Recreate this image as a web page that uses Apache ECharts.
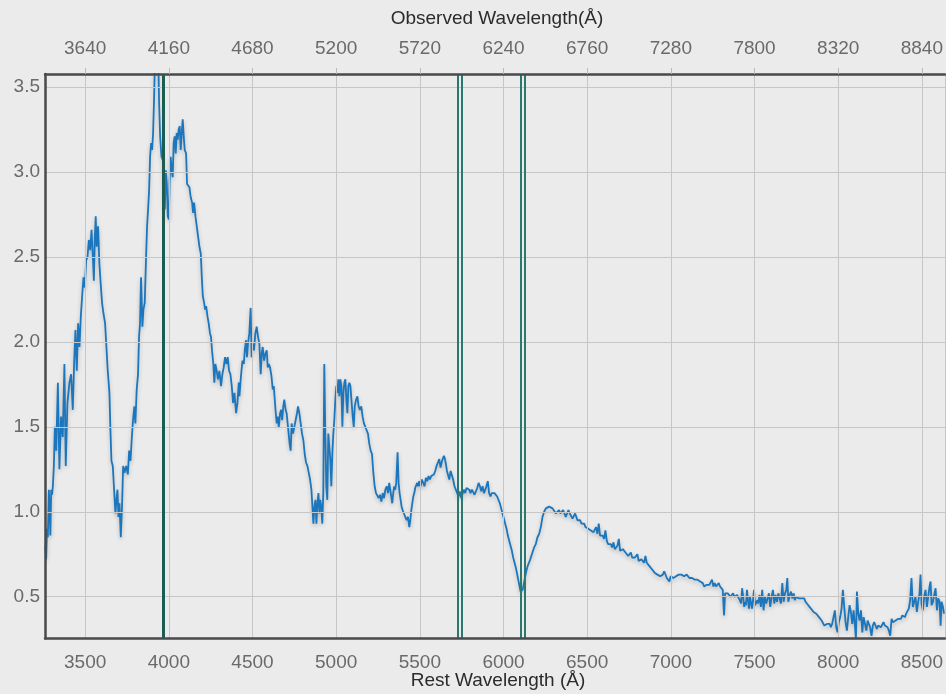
<!DOCTYPE html>
<html>
<head>
<meta charset="utf-8">
<script src="https://cdn.jsdelivr.net/npm/echarts@6/dist/echarts.min.js"></script>
<style>
  html, body { margin: 0; padding: 0; background: #ebebeb; }
  #chart { width: 946px; height: 694px; }
</style>
</head>
<body>
<div id="chart"></div>
<script>
// Redshift used to convert rest-frame wavelengths to the observed frame
const redshift = 0.04;

// Rest-frame wavelength (Å)
const restWave = [
  3262,3267,3272,3277,3283,3288,3292,3297,3302,3307,3313,3319,3327,3337,3346,3356,3366,3376,3384,3394,
  3406,3416,3426,3434,3442,3450,3458,3466,3474,3482,3490,3498,3506,3514,3522,3530,3538,3546,3552,3558,
  3563,3569,3577,3585,3593,3601,3609,3619,3627,3635,3645,3651,3657,3665,3673,3681,3687,3693,3699,3705,
  3713,3721,3727,3735,3745,3755,3763,3771,3779,3786,3794,3800,3808,3816,3822,3828,3834,3842,3848,3856,
  3864,3870,3876,3882,3888,3894,3900,3906,3912,3916,3920,3926,3932,3938,3942,3948,3956,3964,3970,3976,3982,
  3988,3994,4000,4005,4011,4017,4023,4029,4035,4041,4047,4053,4059,4065,4071,4077,4083,4089,4095,4103,
  4109,4117,4123,4131,4139,4145,4151,4159,4167,4175,4183,4191,4197,4203,4211,4217,4223,4231,4238,4246,
  4252,4258,4266,4272,4278,4286,4294,4302,4312,4320,4328,4336,4344,4352,4360,4368,4376,4384,4392,4402,
  4410,4418,
  4422,4428,4434,4440,4448,4454,4461,4467,4473,4481,4489,4495,4501,4509,4517,4525,4533,4541,4549,4555,
  4561,4569,4577,4585,4591,4597,4605,4613,4621,4627,4633,4639,4645,4651,4657,4665,4671,4677,4684,4690,
  4698,4704,4710,4716,4722,4728,4734,4742,4750,4758,4766,4772,4780,4788,4796,4804,4812,4820,4828,4836,
  4844,4852,4858,4864,4870,4876,4882,4888,4894,4900,4905,4911,4917,4923,4929,4935,4941,4947,4953,4959,
  4965,4971,4977,4983,4989,4995,5001,5007,5013,5019,5025,5031,5037,5043,5049,5055,5061,5067,5073,5079,
  5085,5091,5099,5105,5111,5119,5127,5134,5142,5150,5158,5166,5174,5182,5190,5198,5206,5214,5222,5230,
  5238,5246,5254,5262,5270,5278,5286,5294,5302,5310,
  5317,5323,5329,5335,5341,5347,5353,5359,5367,5373,5379,5385,5391,5397,5405,5413,5421,5429,5437,5443,
  5449,5455,5461,5467,5472,5478,5484,5490,5496,5504,5512,5520,5528,5536,5544,5552,5560,5568,5576,5584,
  5592,5600,5608,5616,5624,5630,5636,5644,5650,5656,5662,5668,5676,5684,5691,5699,5707,5715,5723,5731,
  5739,5747,5755,5763,5771,5779,5787,5795,5803,5811,5819,5827,5835,5843,5851,5859,5867,5875,5883,5891,
  5898,5906,5914,5922,5930,5938,5946,5954,5962,5970,5978,5986,5994,6002,6010,6018,6026,6034,6042,6050,
  6058,6066,
  6074,6082,6090,6096,6102,6108,6114,6120,6128,6136,6144,6152,6160,
  6173,6183,6193,6203,6213,6223,6233,6243,6253,6263,6273,6283,6293,6303,6313,6323,
  6332,6340,6348,6356,6364,6372,6380,6388,6396,6404,6412,6420,6428,6434,6442,6450,6458,6466,6474,6482,
  6490,6498,6506,6514,6522,6530,6538,6546,6553,6561,6569,6577,6585,6593,6601,6609,6617,6625,6633,6641,
  6649,6657,6665,6673,6681,6689,6697,6705,6713,6721,6729,6737,6745,6753,6761,6769,6776,6784,6792,6800,
  6808,6816,6824,6832,6840,6848,6856,6864,6872,6880,6888,6896,6904,6912,6920,6928,6936,6944,6952,6960,
  6968,6976,6984,6991,6999,7007,7015,7023,7031,7039,7047,7055,7063,7071,7079,7087,7095,7103,7111,7119,
  7127,7135,7143,7151,7159,7167,7175,7183,7191,7199,7207,7214,7222,7230,7238,7246,7254,7262,7270,7278,
  7286,7294,7302,7310,7318,7324,7332,7340,7348,7356,7364,7372,7380,7388,7396,7404,7412,7420,7426,7432,
  7438,7443,7449,7455,7461,7467,7473,7479,7485,7491,7497,7503,7509,7517,
  7522,7530,7538,7546,7554,7562,7570,7578,7586,7594,7602,7610,7618,7626,7634,7642,7650,7658,7666,7674,
  7682,7690,7696,7702,7710,7718,7726,7734,7741,7749,7757,7765,7773,7781,7789,7797,7805,7813,7821,7829,
  7837,7845,7853,7861,7869,7877,7885,7893,7901,7909,7917,7925,7933,7941,7949,7956,7964,7972,7980,7988,
  7996,8004,8012,8020,8028,8036,8044,8052,8060,8068,8076,8084,8092,8100,8106,8112,8120,8128,8136,8144,
  8152,8160,8168,8176,8183,8191,8199,8207,8215,8223,8231,8239,8247,8255,8263,8271,8279,8287,8295,8303,
  8311,8319,8327,8335,8343,8351,8359,8367,8375,8383,8391,8399,8406,8414,8422,8430,8438,8446,8454,8462,
  8470,8478,8486,8492,8498,8506,8514,8522,8530,8538,8546,8552,8558,8566,8574,8582,8590,8598,8606,8612,
  8618,8626,8632
];

// Normalised flux at each wavelength
const flux = [
  0.80,0.72,0.90,0.85,1.13,1.00,0.86,1.13,1.10,1.15,1.27,1.50,1.36,1.76,1.25,1.56,1.44,1.87,1.27,1.64,
  1.76,1.81,1.60,1.87,2.07,1.83,2.11,1.97,2.15,2.27,2.38,2.32,2.48,2.50,2.60,2.54,2.66,2.50,2.36,2.62,
  2.74,2.56,2.68,2.46,2.34,2.23,2.17,2.11,1.97,1.83,1.70,1.48,1.30,1.27,1.13,0.99,1.07,1.13,0.97,1.05,
  0.85,1.05,1.27,1.23,1.27,1.22,1.36,1.30,1.44,1.54,1.62,1.52,1.72,1.81,2.03,2.11,2.38,2.09,2.19,2.23,
  2.50,2.68,2.78,2.89,3.09,3.17,3.13,3.23,3.44,3.62,3.70,3.60,3.70,3.62,3.40,3.21,3.09,3.07,2.95,2.78,3.01,
  2.93,2.74,2.72,2.95,3.09,3.01,2.97,3.17,3.21,3.11,3.23,3.19,3.25,3.27,3.13,3.23,3.31,3.21,3.13,3.11,
  2.93,2.93,2.91,2.85,2.82,2.76,2.82,2.74,2.68,2.62,2.56,2.52,2.38,2.27,2.23,2.19,2.21,2.15,2.11,2.05,
  2.03,1.95,1.87,1.76,1.87,1.83,1.78,1.83,1.74,1.81,1.85,1.91,1.87,1.91,1.83,1.81,1.74,1.64,1.70,1.58,
  1.64,1.76,
  1.68,1.76,1.83,1.89,1.87,1.95,2.01,1.91,1.99,2.05,2.20,1.91,1.99,1.95,2.05,2.09,2.03,1.99,1.81,1.93,
  1.97,1.89,1.93,1.95,1.85,1.87,1.85,1.80,1.72,1.74,1.66,1.58,1.52,1.56,1.50,1.58,1.60,1.54,1.62,1.66,
  1.60,1.58,1.52,1.46,1.40,1.36,1.52,1.46,1.50,1.54,1.58,1.62,1.58,1.52,1.46,1.42,1.34,1.29,1.27,1.23,
  1.19,1.13,1.03,0.93,1.03,1.07,0.93,1.05,1.11,0.99,1.07,1.03,0.93,1.11,1.87,1.46,1.15,1.07,1.46,1.38,
  1.31,1.15,1.34,1.46,1.54,1.66,1.74,1.70,1.78,1.68,1.78,1.74,1.50,1.70,1.76,1.78,1.66,1.58,1.74,1.76,
  1.74,1.66,1.56,1.50,1.62,1.66,1.68,1.62,1.60,1.62,1.56,1.52,1.50,1.48,1.46,1.40,1.36,1.34,1.23,1.15,
  1.11,1.11,1.08,1.10,1.06,1.11,1.08,1.13,1.15,1.11,
  1.17,1.13,1.09,1.05,1.11,1.15,1.13,1.17,1.35,1.17,1.11,1.07,1.03,1.01,0.99,0.97,0.95,0.97,0.91,0.95,
  1.01,1.05,1.09,1.11,1.14,1.13,1.17,1.15,1.18,1.15,1.19,1.17,1.15,1.20,1.18,1.21,1.19,1.21,1.20,1.22,
  1.24,1.27,1.29,1.31,1.26,1.29,1.31,1.33,1.31,1.28,1.24,1.25,1.19,1.24,1.25,1.19,1.15,1.13,1.11,1.09,
  1.12,1.08,1.07,1.13,1.11,1.14,1.15,1.13,1.11,1.13,1.12,1.10,1.09,1.14,1.17,1.15,1.12,1.15,1.11,1.13,
  1.15,1.18,1.11,1.09,1.11,1.10,1.11,1.10,1.09,1.08,1.05,1.02,0.99,0.96,0.93,0.90,0.86,0.83,0.80,0.77,
  0.73,0.70,
  0.67,0.63,0.59,0.56,0.53,0.52,0.54,0.57,0.61,0.65,0.68,0.70,0.72,
  0.76,0.79,0.81,0.85,0.87,0.91,0.97,1.00,1.02,1.03,1.03,1.04,1.02,1.01,0.99,0.98,
  1.01,0.99,0.99,1.01,0.99,0.97,0.99,1.01,0.99,0.98,0.96,0.97,0.99,1.00,0.95,0.94,0.95,0.93,0.92,0.93,
  0.91,0.92,0.90,0.90,0.89,0.89,0.88,0.89,0.91,0.87,0.93,0.86,0.86,0.86,0.84,0.89,0.83,0.81,0.80,0.81,
  0.79,0.82,0.78,0.77,0.80,0.84,0.77,0.77,0.78,0.78,0.76,0.75,0.74,0.73,0.76,0.73,0.74,0.73,0.74,0.75,
  0.71,0.71,0.72,0.71,0.70,0.74,0.70,0.69,0.68,0.67,0.66,0.65,0.64,0.63,0.63,0.63,0.62,0.63,0.63,0.65,
  0.66,0.61,0.60,0.59,0.62,0.61,0.61,0.62,0.62,0.61,0.63,0.62,0.63,0.64,0.62,0.62,0.63,0.62,0.61,0.61,
  0.61,0.60,0.60,0.60,0.60,0.59,0.59,0.58,0.58,0.56,0.55,0.57,0.58,0.57,0.56,0.60,0.56,0.58,0.56,0.57,
  0.58,0.56,0.56,0.54,0.39,0.52,0.51,0.52,0.52,0.50,0.51,0.52,0.50,0.49,0.51,0.50,0.48,0.46,0.55,0.50,
  0.44,0.47,0.45,0.54,0.48,0.43,0.50,0.51,0.43,0.48,0.54,0.45,0.44,0.48,
  0.46,0.51,0.44,0.54,0.42,0.50,0.46,0.45,0.52,0.44,0.50,0.54,0.46,0.51,0.47,0.52,0.49,0.46,0.58,0.47,
  0.52,0.54,0.61,0.47,0.51,0.53,0.49,0.52,0.48,0.50,0.50,0.49,0.50,0.49,0.48,0.49,0.47,0.46,0.45,0.44,
  0.43,0.42,0.41,0.41,0.40,0.39,0.38,0.37,0.36,0.35,0.33,0.32,0.34,0.33,0.34,0.32,0.34,0.38,0.42,0.32,
  0.29,0.35,0.38,0.43,0.54,0.44,0.35,0.30,0.38,0.45,0.41,0.34,0.42,0.33,0.25,0.53,0.40,0.36,0.42,0.29,
  0.38,0.34,0.30,0.36,0.34,0.32,0.27,0.33,0.35,0.34,0.31,0.33,0.33,0.32,0.31,0.35,0.33,0.33,0.32,0.30,
  0.27,0.37,0.35,0.35,0.36,0.36,0.37,0.38,0.37,0.39,0.39,0.38,0.40,0.41,0.43,0.48,0.61,0.44,0.43,0.50,
  0.41,0.47,0.52,0.63,0.46,0.42,0.50,0.54,0.44,0.50,0.56,0.59,0.45,0.47,0.51,0.55,0.42,0.49,0.47,0.33,
  0.47,0.44,0.40
];

// Marked rest wavelengths (Å): a single line and two close pairs
const singleLines = [3969];
const pairedLines = [5727, 5753, 6104, 6125];

const axisFont = 'Liberation Sans, Arial, Helvetica, sans-serif';
const labelColor = '#6a6a6a';
const gridColor = '#c6c6c6';
const frameColor = '#4a4a4a';

const spectrum = restWave.map((w, i) => [w, flux[i]]);

const markData = [
  ...singleLines.map(v => ({ xAxis: v, lineStyle: { color: '#1c5d53', width: 3, type: 'solid' } })),
  ...pairedLines.map(v => ({ xAxis: v, lineStyle: { color: '#2d786e', width: 2, type: 'solid' } }))
];

const chart = echarts.init(document.getElementById('chart'), null, { renderer: 'canvas' });

chart.setOption({
  backgroundColor: '#ebebeb',
  animation: false,
  textStyle: { fontFamily: axisFont },
  grid: {
    left: 45,
    top: 74,
    bottom: 55.5,
    right: 0,
    show: false,
    containLabel: false
  },
  xAxis: [
    {
      type: 'value',
      position: 'bottom',
      min: 3260,
      max: 8638,
      splitNumber: 10,
      axisLine: { show: true, onZero: false, lineStyle: { color: frameColor, width: 2.5 } },
      axisTick: { show: false },
      splitLine: { show: true, lineStyle: { color: gridColor, width: 1 } },
      axisLabel: {
        color: labelColor, fontSize: 19, fontFamily: axisFont, margin: 15,
        showMinLabel: false, showMaxLabel: false,
        formatter: v => String(Math.round(v))
      },
      z: 5
    },
    {
      type: 'value',
      position: 'top',
      min: 3260,
      max: 8638,
      splitNumber: 10,
      axisLine: { show: true, onZero: false, lineStyle: { color: frameColor, width: 2.5 } },
      axisTick: { show: true, length: 6, lineStyle: { color: '#b9b9b9', width: 1 } },
      splitLine: { show: false },
      axisLabel: {
        color: labelColor, fontSize: 19, fontFamily: axisFont, margin: 16,
        showMinLabel: false, showMaxLabel: false,
        formatter: v => String(Math.round(v * (1 + redshift)))
      },
      z: 5
    }
  ],
  yAxis: {
    type: 'value',
    min: 0.254,
    max: 3.577,
    splitNumber: 7,
    axisLine: { show: true, onZero: false, lineStyle: { color: frameColor, width: 2.5 } },
    axisTick: { show: false },
    splitLine: { show: true, lineStyle: { color: gridColor, width: 1 } },
    axisLabel: {
      color: labelColor, fontSize: 19, fontFamily: axisFont, margin: 5,
      showMinLabel: false, showMaxLabel: false,
      formatter: v => v.toFixed(1)
    },
    z: 5
  },
  graphic: [
    {
      type: 'text', x: 497, y: 19,
      style: {
        text: 'Observed Wavelength(Å)', fill: '#2b2b2b',
        font: '19px ' + axisFont, textAlign: 'center', textVerticalAlign: 'middle'
      }
    },
    {
      type: 'text', x: 498, y: 681,
      style: {
        text: 'Rest Wavelength (Å)', fill: '#2b2b2b',
        font: '19px ' + axisFont, textAlign: 'center', textVerticalAlign: 'middle'
      }
    }
  ],
  series: [
    {
      type: 'line',
      xAxisIndex: 0,
      data: spectrum,
      showSymbol: false,
      symbol: 'none',
      clip: true,
      lineStyle: {
        color: '#1b76bd',
        width: 1.8,
        shadowColor: 'rgba(0,0,0,0.22)',
        shadowBlur: 4,
        shadowOffsetY: 2
      },
      markLine: {
        silent: true,
        symbol: ['none', 'none'],
        label: { show: false },
        emphasis: { disabled: true },
        data: markData
      },
      z: 3
    }
  ]
});
</script>
</body>
</html>
